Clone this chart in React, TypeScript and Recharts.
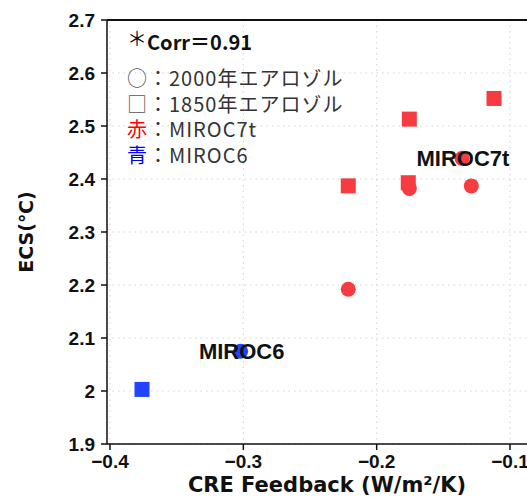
import React from 'react'
import { ScatterChart, Scatter, XAxis, YAxis, CartesianGrid, ReferenceLine, LabelList, Customized } from 'recharts'

// MIROC7t (red) and MIROC6 (blue), circles = 2000 aerosol, squares = 1850 aerosol
const red1850X = [-0.112, -0.1755, -0.2213, -0.1763]
const red1850Y = [2.552, 2.513, 2.387, 2.393]
const red2000X = [-0.1755, -0.129, -0.136, -0.2213]
const red2000Y = [2.382, 2.387, 2.439, 2.192]
const red2000Labels = ['', '', 'MIROC7t', '']
const blue2000X = [-0.302]
const blue2000Y = [2.075]
const blue2000Labels = ['MIROC6']
const blue1850X = [-0.376]
const blue1850Y = [2.003]

const xTicks = [-0.4, -0.3, -0.2, -0.1]
const yTicks = [1.9, 2.0, 2.1, 2.2, 2.3, 2.4, 2.5, 2.6, 2.7]
const xDomain = [-0.40225, -0.07225]
const yDomain = [1.9, 2.7]

const RED = '#f63c40'
const BLUE = '#2243ff'

const toPoints = (xs: number[], ys: number[], labels?: string[]) =>
  xs.map((x, i) => ({ x, y: ys[i], label: labels ? labels[i] : '' }))

const squareShape = (color: string) => (props: any) => (
  <rect x={props.cx - 7.5} y={props.cy - 7.5} width={15} height={15} fill={color} />
)
const circleShape = (color: string) => (props: any) => (
  <circle cx={props.cx} cy={props.cy} r={7.5} fill={color} />
)

const pointLabel = (props: any) => {
  const { x, y, width, height, value } = props
  if (!value) return null
  return (
    <text
      x={x + (width || 0) / 2 + 1}
      y={y + (height || 0) / 2}
      textAnchor="middle"
      dominantBaseline="central"
      fontFamily="Liberation Sans, Arial, sans-serif"
      fontWeight={700}
      fontSize={22}
      fill="#111"
    >
      {value}
    </text>
  )
}

const fmtX = (v: number) => v.toFixed(1).replace('-', '\u2212')
const fmtY = (v: number) => (Math.abs(v - Math.round(v)) < 1e-9 ? String(Math.round(v)) : v.toFixed(1))

const tickStyle = { fontFamily: 'Liberation Sans, Arial, sans-serif', fontWeight: 700, fontSize: 19, fill: '#111' }

const LegendBox = () => {
  const jp = 'Noto Sans CJK JP, sans-serif'
  const row = { fontFamily: jp, fontSize: 20, fill: '#333', letterSpacing: 1 }
  return (
    <g>
      <text x={127} y={50} fontFamily={jp} fontSize={20} fill="#111">
        <tspan dy={-4}>＊</tspan>
        <tspan dy={4} fontWeight={700}>Corr＝0.91</tspan>
      </text>
      <text x={127} y={86} {...row}>
        <tspan fill="#555">○</tspan>：2000年エアロゾル
      </text>
      <text x={127} y={112} {...row}>
        <tspan fill="#555">□</tspan>：1850年エアロゾル
      </text>
      <text x={127} y={137} {...row}>
        <tspan fill="#ff0000">赤</tspan>：MIROC7t
      </text>
      <text x={127} y={163} {...row}>
        <tspan fill="#0000ff">青</tspan>：MIROC6
      </text>
    </g>
  )
}

const xTitle = (props: any) => {
  const vb = props.viewBox
  return (
    <text
      x={vb.x + vb.width / 2}
      y={492}
      textAnchor="middle"
      fontFamily="DejaVu Sans, sans-serif"
      fontWeight={700}
      fontSize={21}
      fill="#111"
    >
      CRE Feedback (W/m²/K)
    </text>
  )
}

const yTitle = (props: any) => {
  const vb = props.viewBox
  const cy = vb.y + vb.height / 2
  return (
    <text
      x={26}
      y={cy}
      transform={`rotate(-90 26 ${cy})`}
      textAnchor="middle"
      dominantBaseline="central"
      fontFamily="DejaVu Sans, sans-serif"
      fontWeight={700}
      fontSize={19}
      fill="#111"
    >
      ECS(℃)
    </text>
  )
}

export default function App() {
  return (
    <div style={{ position: 'fixed', left: 0, top: 0, width: 527, height: 497, overflow: 'hidden', background: '#fff' }}>
      <ScatterChart width={560} height={497} margin={{ top: 20, right: 13, bottom: 0, left: 0 }}>
        <CartesianGrid stroke="#d2d2d2" strokeDasharray="1.5 4" />
        <XAxis
          type="number"
          dataKey="x"
          domain={xDomain}
          ticks={xTicks}
          tickFormatter={fmtX}
          allowDataOverflow
          height={53}
          tick={tickStyle}
          tickSize={6}
          tickMargin={5}
          stroke="#111"
          strokeWidth={1.5}
          label={{ content: xTitle }}
        />
        <YAxis
          type="number"
          dataKey="y"
          domain={yDomain}
          ticks={yTicks}
          tickFormatter={fmtY}
          allowDataOverflow
          width={107}
          tick={tickStyle}
          tickSize={6}
          tickMargin={6}
          stroke="#111"
          strokeWidth={1.5}
          label={{ content: yTitle }}
        />
        <ReferenceLine y={2.7} stroke="#111" strokeWidth={2} />
        <ReferenceLine x={xDomain[1]} stroke="#111" strokeWidth={2} />
        <Scatter data={toPoints(red2000X, red2000Y, red2000Labels)} shape={circleShape(RED)} isAnimationActive={false}>
          <LabelList dataKey="label" content={pointLabel} />
        </Scatter>
        <Scatter data={toPoints(red1850X, red1850Y)} shape={squareShape(RED)} isAnimationActive={false} />
        <Scatter data={toPoints(blue2000X, blue2000Y, blue2000Labels)} shape={circleShape(BLUE)} isAnimationActive={false}>
          <LabelList dataKey="label" content={pointLabel} />
        </Scatter>
        <Scatter data={toPoints(blue1850X, blue1850Y)} shape={squareShape(BLUE)} isAnimationActive={false} />
        <Customized component={LegendBox} />
      </ScatterChart>
    </div>
  )
}
